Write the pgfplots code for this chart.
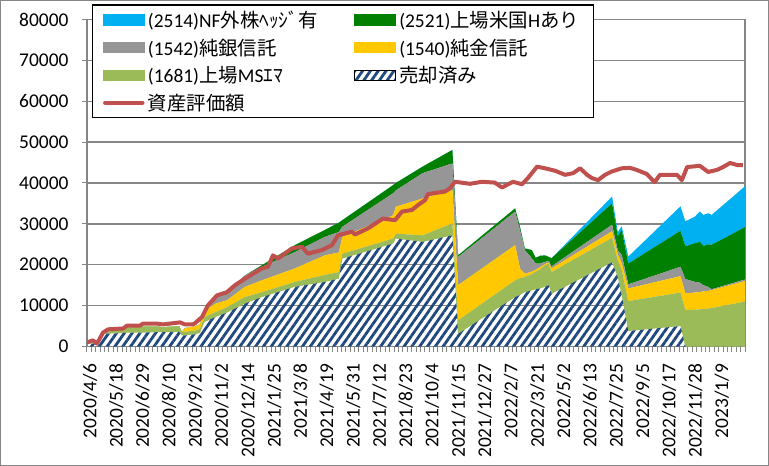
\documentclass[border=0pt]{standalone}
\usepackage{fontspec}
\setmainfont{Carlito}
\newfontfamily\jp{Noto Sans CJK JP}
\usepackage{pgfplots}
\pgfplotsset{compat=1.18}
\usepackage{pgfplotstable}
\usetikzlibrary{patterns.meta}

\definecolor{cBlue}{HTML}{00B0F0}
\definecolor{cDG}{HTML}{008000}
\definecolor{cGray}{HTML}{969696}
\definecolor{cGold}{HTML}{FFC800}
\definecolor{cLG}{HTML}{9BBB59}
\definecolor{cHatch}{HTML}{1F497D}
\definecolor{cRed}{HTML}{C0504D}
\definecolor{cAxis}{HTML}{868686}

% week index, sold, 1681, 1540, 1542, 2521, 2514 (stack increments)
\pgfplotstableread{
w H G Y S D B
0 800 0 0 0 0 0
2.3 600 0 0 0 0 0
3.6 3100 400 0 0 0 0
8.2 3300 800 0 0 0 0
9.1 3400 1200 0 0 0 0
12.8 3400 1500 0 0 0 0
16.0 3500 1400 0 0 0 0
17.3 3500 1200 0 0 0 0
21.0 3600 1400 0 0 0 0
21.6 2700 800 0 0 0 0
22.3 2700 900 900 0 0 0
24.6 3000 900 1000 0 0 0
25.7 3300 1000 1100 0 0 0
26.8 6000 1200 1600 500 0 0
29.3 7200 1200 2100 1600 0 0
31.9 8300 1300 1700 2000 0 0
36.0 10500 1600 2500 2800 0 0
39.9 12100 1200 2900 3300 400 0
47.4 14600 1200 3300 4000 1700 0
54.2 15800 1700 4800 4500 1700 0
57.4 16600 1600 4800 5000 2300 0
58.2 21500 1200 4100 2500 1600 0
69.8 25200 1200 5700 5400 2000 0
70.4 26400 1200 6600 4000 1800 0
76.5 25600 1600 9000 6200 1600 0
83.3 27200 2900 8200 6500 3300 0
84.6 3100 3300 8600 6900 400 0
97.6 12100 4100 8600 8200 800 0
98.7 12600 4100 2400 9400 800 0
99.8 13300 3700 800 5800 400 0
101.4 13700 4000 600 3300 2000 0
102.3 14000 4300 500 1500 1400 0
103.3 14200 4700 500 900 1900 0
104.4 14600 5300 300 500 1600 0
105.3 15000 5100 400 400 1000 0
105.9 12900 5300 900 500 2000 0
119.7 20600 6000 1600 1600 5200 1700
121.0 17000 4000 1500 1000 3500 1000
121.9 12500 6200 1700 2000 6100 900
123.4 3800 7300 3100 1000 5100 1700
135.3 5000 8200 4000 2300 8800 6000
136.4 0 8900 4100 3500 8000 6100
138.6 0 9000 4200 2600 9500 6500
139.7 0 9100 4200 2300 10000 7400
140.5 0 9200 4300 1500 9600 7600
141.6 0 9300 4300 1000 10400 7600
142.4 0 9400 4400 200 10900 7300
150 0 11000 5000 400 12800 10000
}\stackdata

\pgfplotstableread{
w V
0 1000
1.37 1500
2.28 700
3.65 3400
4.79 4200
8.21 4400
9.12 5100
12.08 5100
12.77 5600
15.96 5600
17.32 5400
21.2 5900
22.34 5400
24.17 5400
24.62 5700
26.21 7200
27.58 10100
29.63 12500
31.91 13300
33.74 15000
36.02 16600
37.84 17800
39.89 19100
41.26 19500
42.4 22300
43.54 21500
46.73 24000
49.01 24400
50.38 22700
53.57 23600
55.85 24800
57.21 27200
60.41 28100
61.09 27400
64.05 28900
67.47 31300
70.21 30900
71.8 33000
74.08 33400
75.45 34600
77.05 35800
77.73 37300
81.6 37900
82.74 38700
83.88 40300
87.3 39800
90.04 40300
92.93 40100
94.6 38900
97.1 40300
99.16 39700
100.5 41200
102.6 44000
104.4 43600
106.7 43000
108.97 42000
110.8 42400
112.4 43600
114 42000
115.1 41200
116.5 40700
118.1 42000
119.6 42800
121.9 43600
123.8 43700
125.3 43200
127.6 42200
129.4 40200
130.6 42000
134.5 42000
135.6 40700
136.8 43900
139.7 44200
141.6 42700
143.6 43200
145 43900
146.6 44900
148.2 44400
149.5 44400
}\asset

\newcommand{\lf}{\fontsize{19.5}{22}\selectfont}
\newcommand{\st}{\rule[-6bp]{0pt}{20bp}}

\begin{document}
\begin{tikzpicture}
\useasboundingbox (0,0) rectangle (769bp,466bp);
\fill[white] (0,0) rectangle (769bp,466bp);
\draw[cAxis, line width=1.3bp] (0.65bp,0.65bp) rectangle (768.35bp,465.35bp);

\begin{axis}[
  at={(87bp,119.5bp)}, anchor=south west,
  scale only axis, width=658bp, height=327bp,
  xmin=0, xmax=150, ymin=0, ymax=80000,
  stack plots=y,
  axis line style={cAxis, line width=1.3bp},
  ytick={0,10000,...,80000},
  scaled y ticks=false,
  ymajorgrids, grid style={cAxis, line width=1.3bp},
  xtick={0,6,...,144},
  xticklabels={2020/4/6,2020/5/18,2020/6/29,2020/8/10,2020/9/21,2020/11/2,2020/12/14,2021/1/25,2021/3/8,2021/4/19,2021/5/31,2021/7/12,2021/8/23,2021/10/4,2021/11/15,2021/12/27,2022/2/7,2022/3/21,2022/5/2,2022/6/13,2022/7/25,2022/9/5,2022/10/17,2022/11/28,2023/1/9},
  minor xtick={0,1,...,150},
  tick align=outside,
  tick style={cAxis, line width=1bp},
  major tick length=5bp, minor tick length=5bp,
  xtick pos=bottom, ytick pos=left,
  ticklabel style={font=\lf},
  xticklabel style={xshift=3bp, rotate=90, anchor=east},
  yticklabel style={anchor=east},
  xticklabel shift=9bp,
  yticklabel shift=10bp,
  /pgf/number format/1000 sep={},
  /pgf/number format/assume math mode=true,
  legend columns=2,
  legend cell align=left,
  legend style={at={(axis description cs:0.0076,1.046)}, anchor=north west,
    draw=black, line width=1.3bp, fill=white, font=\lf,
    inner xsep=10bp, inner ysep=4bp, row sep=5.7bp,
    nodes={inner xsep=3bp, inner ysep=2bp},
    /tikz/every even column/.append style={column sep=3bp}},
]
\addplot[draw=none, pattern={Lines[angle=55,distance=6.4bp,line width=2.8bp]}, pattern color=cHatch, forget plot] table[x=w,y=H]{\stackdata} \closedcycle;
\addplot[draw=none, fill=cLG, forget plot] table[x=w,y=G]{\stackdata} \closedcycle;
\addplot[draw=none, fill=cGold, forget plot] table[x=w,y=Y]{\stackdata} \closedcycle;
\addplot[draw=none, fill=cGray, forget plot] table[x=w,y=S]{\stackdata} \closedcycle;
\addplot[draw=none, fill=cDG, forget plot] table[x=w,y=D]{\stackdata} \closedcycle;
\addplot[draw=none, fill=cBlue, forget plot] table[x=w,y=B]{\stackdata} \closedcycle;

\addlegendimage{legend image code/.code={\fill[cBlue] (0bp,-5bp) rectangle (41bp,5bp);}}
\addlegendentry{\makebox[200bp][l]{\st(2514)NF{\jp 外株ﾍｯｼﾞ有}}}
\addlegendimage{legend image code/.code={\fill[cDG] (0bp,-5bp) rectangle (41bp,5bp);}}
\addlegendentry{\makebox[181bp][l]{\st(2521){\jp 上場米国}H{\jp あり}}}
\addlegendimage{legend image code/.code={\fill[cGray] (0bp,-5bp) rectangle (41bp,5bp);}}
\addlegendentry{\makebox[200bp][l]{\st(1542){\jp 純銀信託}}}
\addlegendimage{legend image code/.code={\fill[cGold] (0bp,-5bp) rectangle (41bp,5bp);}}
\addlegendentry{\makebox[181bp][l]{\st(1540){\jp 純金信託}}}
\addlegendimage{legend image code/.code={\fill[cLG] (0bp,-5bp) rectangle (41bp,5bp);}}
\addlegendentry{\makebox[200bp][l]{\st(1681){\jp 上場}MS{\jp ｴﾏ}}}
\addlegendimage{legend image code/.code={\fill[pattern={Lines[angle=55,distance=6.4bp,line width=2.8bp]}, pattern color=cHatch] (0bp,-5bp) rectangle (41bp,5bp);}}
\addlegendentry{\makebox[181bp][l]{\st{\jp 売却済み}}}
\addlegendimage{legend image code/.code={\draw[cRed, line width=4.5bp, line cap=round] (2bp,0bp) -- (39bp,0bp);}}
\addlegendentry{\makebox[200bp][l]{\st{\jp 資産評価額}}}
\end{axis}

\begin{axis}[
  at={(87bp,119.5bp)}, anchor=south west,
  scale only axis, width=658bp, height=327bp,
  xmin=0, xmax=150, ymin=0, ymax=80000,
  hide axis,
]
\addplot[cRed, line width=4bp, line join=round, no marks] table[x=w,y=V]{\asset};
\end{axis}
\end{tikzpicture}
\end{document}
